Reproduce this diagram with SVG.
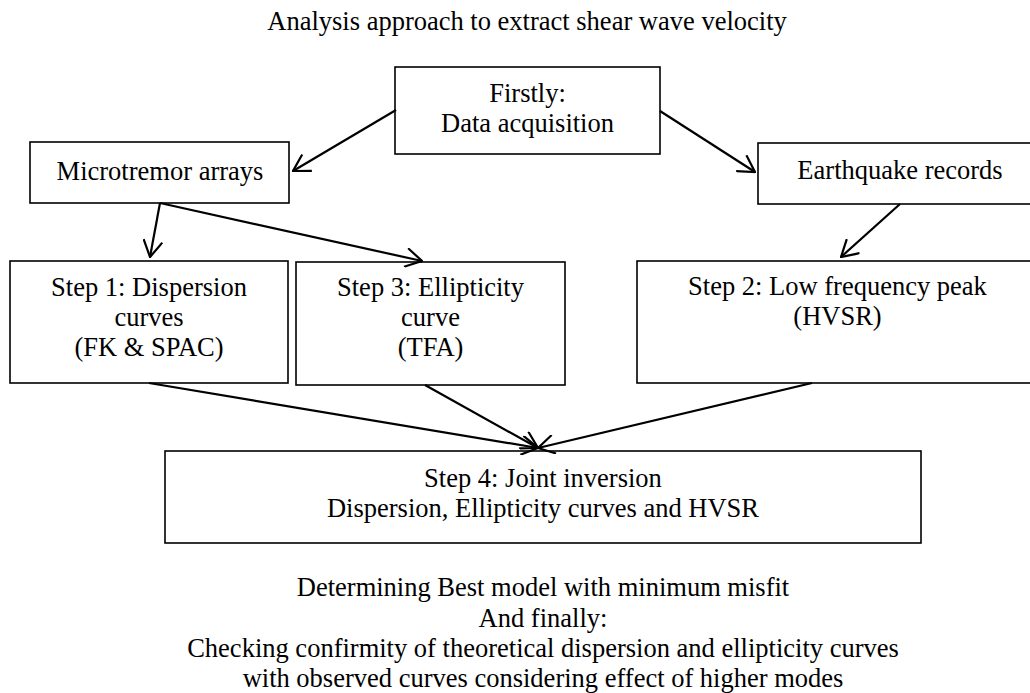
<svg xmlns="http://www.w3.org/2000/svg" width="1030" height="693" viewBox="0 0 1030 693">
<style>
text{font-family:"Liberation Serif","Times New Roman",serif;font-size:26.5px;fill:#000;text-anchor:middle}
.box{fill:#fff;stroke:#000;stroke-width:1.6}
.conn line{stroke:#000;stroke-width:2.2;fill:none;marker-end:url(#ah)}
</style>
<defs>
<marker id="ah" viewBox="0 0 20 20" refX="19" refY="10" markerWidth="20" markerHeight="20" markerUnits="userSpaceOnUse" orient="auto">
<path d="M2.7,0.5 L19,10 L2.7,19.5" fill="none" stroke="#000" stroke-width="2.2"/>
</marker>
</defs>
<rect width="1030" height="693" fill="#fff"/>
<text id="title" x="527" y="30">Analysis approach to extract shear wave velocity</text>
<g id="firstly"><rect class="box" x="395" y="67" width="265" height="87"/><text x="527.5" y="102">Firstly:</text><text x="527.5" y="132">Data acquisition</text></g>
<g id="microtremor"><rect class="box" x="30" y="142" width="259" height="61"/><text x="160" y="180">Microtremor arrays</text></g>
<g id="earthquake"><rect class="box" x="758" y="143" width="283" height="61"/><text x="900" y="179">Earthquake records</text></g>
<g id="step1"><rect class="box" x="10" y="261" width="278" height="122"/><text x="149" y="296">Step 1: Dispersion</text><text x="149" y="326">curves</text><text x="149" y="356">(FK &amp; SPAC)</text></g>
<g id="step3"><rect class="box" x="296" y="262" width="269" height="123"/><text x="430.5" y="296">Step 3: Ellipticity</text><text x="430.5" y="326">curve</text><text x="430.5" y="356">(TFA)</text></g>
<g id="step2"><rect class="box" x="637" y="261" width="401" height="122"/><text x="837.5" y="295">Step 2: Low frequency peak</text><text x="837.5" y="325">(HVSR)</text></g>
<g id="step4"><rect class="box" x="165" y="451" width="756" height="92"/><text x="543" y="487">Step 4: Joint inversion</text><text x="543" y="517">Dispersion, Ellipticity curves and HVSR</text></g>
<g id="conclusion"><text x="543" y="596">Determining Best model with minimum misfit</text><text x="543" y="627">And finally:</text><text x="543" y="657">Checking confirmity of theoretical dispersion and ellipticity curves</text><text x="543" y="687">with observed curves considering effect of higher modes</text></g>
<g class="conn" id="connectors">
<line x1="396" y1="110" x2="293" y2="171"/>
<line x1="660" y1="111" x2="755" y2="172"/>
<line x1="900" y1="204" x2="841" y2="257"/>
<line x1="160" y1="203" x2="150" y2="257"/>
<line x1="160" y1="203" x2="422" y2="261"/>
<line x1="149" y1="383" x2="538" y2="448"/>
<line x1="425" y1="385" x2="538" y2="448"/>
<line x1="812" y1="383" x2="538" y2="448"/>
</g>
</svg>
